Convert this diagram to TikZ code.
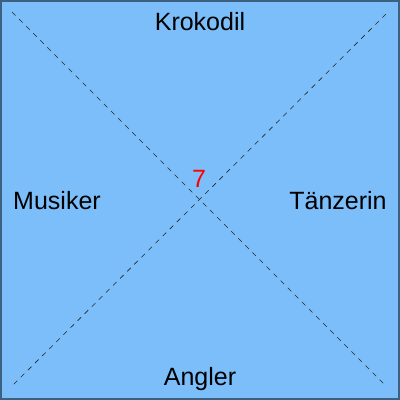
\documentclass[tikz,border=0pt]{standalone}
\usepackage{fontspec}
\setmainfont{Liberation Sans}
\begin{document}
\begin{tikzpicture}[x=1bp,y=-1bp,
  lbl/.style={font=\fontsize{25bp}{28bp}\selectfont, inner sep=0pt},
  diag/.style={dash pattern=on 5bp off 5bp, line width=0.6bp, draw=black!85}]
\useasboundingbox (0,0) rectangle (400,400);
\fill[fill={rgb,255:red,124;green,190;blue,250}, draw={rgb,255:red,60;green,96;blue,128}, line width=2bp] (1,1) rectangle (399,399);
\coordinate (tl) at (12,12);
\coordinate (br) at (386,386);
\coordinate (tr) at (386,14);
\coordinate (bl) at (12,386);
\draw[diag] (tl) -- (br);
\draw[diag] (tr) -- (bl);
\node[lbl] (k) at (200,22) {Krokodil};
\node[lbl] (m) at (57,201) {Musiker};
\node[lbl] (t) at (338,201) {Tänzerin};
\node[lbl] (a) at (200,379) {Angler};
\node[lbl, text=red] (s) at (199,179) {7};
\end{tikzpicture}
\end{document}
